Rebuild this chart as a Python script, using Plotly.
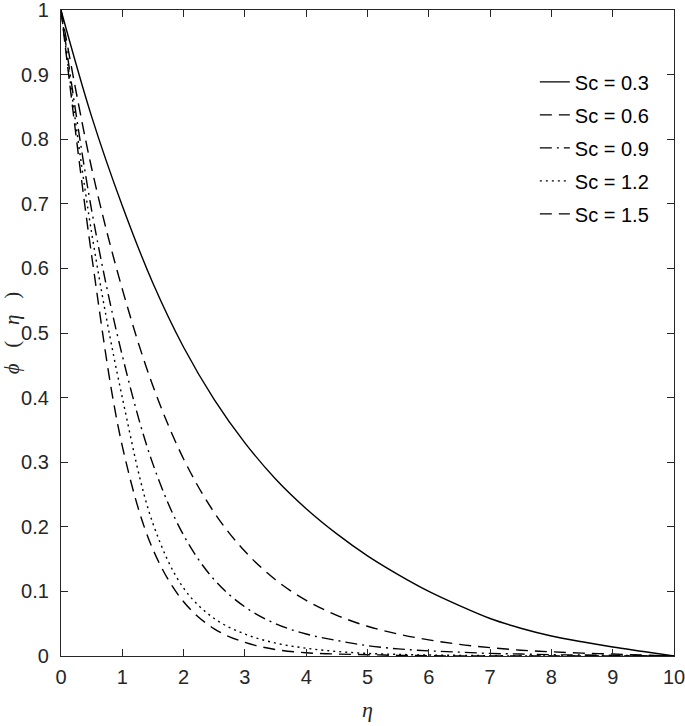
import plotly.graph_objects as go

# eta grid (values at these points)
eta = [0, 0.5, 1, 1.5, 2, 2.5, 3, 3.5, 4, 4.5, 5, 5.5, 6, 6.5, 7, 7.5, 8, 8.5, 9, 9.5, 10]

phi_03 = [1, 0.835, 0.697, 0.577, 0.478, 0.397, 0.330, 0.274, 0.228, 0.189, 0.155,
          0.126, 0.100, 0.078, 0.058, 0.043, 0.031, 0.022, 0.014, 0.007, 0]
phi_06 = [1, 0.755, 0.568, 0.418, 0.305, 0.222, 0.162, 0.118, 0.086, 0.063, 0.046,
          0.034, 0.025, 0.018, 0.013, 0.009, 0.0065, 0.0045, 0.003, 0.0015, 0]
phi_09 = [1, 0.69, 0.465, 0.297, 0.187, 0.118, 0.076, 0.050, 0.034, 0.024, 0.016,
          0.011, 0.008, 0.006, 0.004, 0.003, 0.002, 0.0015, 0.001, 0.0005, 0]
phi_12 = [1, 0.655, 0.40, 0.205, 0.105, 0.058, 0.034, 0.020, 0.012, 0.007, 0.004,
          0.0025, 0.0015, 0.001, 0.0005, 0, 0, 0, 0, 0, 0]
phi_15 = [1, 0.62, 0.325, 0.165, 0.084, 0.042, 0.021, 0.010, 0.005, 0.003, 0.002,
          0.001, 0.0005, 0, 0, 0, 0, 0, 0, 0, 0]

labels = ["Sc = 0.3", "Sc = 0.6", "Sc = 0.9", "Sc = 1.2", "Sc = 1.5"]
series = [phi_03, phi_06, phi_09, phi_12, phi_15]
dashes = ["solid", "12px,7px", "12px,5px,2px,5px", "2px,4px", "12px,7px"]

x_ticks = list(range(0, 11))
y_ticks = [0, 0.1, 0.2, 0.3, 0.4, 0.5, 0.6, 0.7, 0.8, 0.9, 1]
y_ticktext = ["0", "0.1", "0.2", "0.3", "0.4", "0.5", "0.6", "0.7", "0.8", "0.9", "1"]

font_main = "Liberation Sans Narrow, Arial Narrow, Liberation Sans, Arial, sans-serif"

fig = go.Figure()
for name, vals, d in zip(labels, series, dashes):
    fig.add_trace(go.Scatter(x=eta, y=vals, name=name, legendgroup=name, mode="lines",
                             line=dict(color="black", width=1.4, dash=d, shape="spline", smoothing=1)))

axis_style = dict(showline=True, linecolor="#262626", linewidth=1.2, mirror="allticks",
                  ticks="inside", ticklen=7, tickcolor="#262626", tickwidth=1,
                  showgrid=False, zeroline=False, automargin=False,
                  ticklabeloverflow="allow",
                  tickfont=dict(family=font_main, size=20, color="#262626"))

fig.update_xaxes(range=[0, 10], tickvals=x_ticks, ticklabelstandoff=3,
                 title=dict(text="<i>η</i>", font=dict(family="Liberation Serif, serif", size=22, color="#262626"), standoff=14),
                 **axis_style)
fig.update_yaxes(range=[0, 1], tickvals=y_ticks, ticktext=y_ticktext, ticklabelstandoff=7,
                 title=dict(text="<i>ϕ</i>&nbsp;&nbsp;&nbsp;(&nbsp;&nbsp;&nbsp;<i>η</i>&nbsp;&nbsp;&nbsp;)",
                            font=dict(family="Liberation Serif, serif", size=21, color="#262626"), standoff=4),
                 **axis_style)

fig.update_layout(
    width=685, height=726,
    margin=dict(l=61, r=11, t=10, b=70),
    plot_bgcolor="white", paper_bgcolor="white",
    legend=dict(x=0.773, y=0.919, xanchor="left", yanchor="top", bgcolor="rgba(0,0,0,0)",
                borderwidth=0, tracegroupgap=4,
                font=dict(family=font_main, size=20, color="black")),
)

# page body has a default 8px margin; drop it so the figure sits at the window corner
fig.write_html("out.html", config={"displayModeBar": False},
               post_script="document.body.style.margin='0';")
